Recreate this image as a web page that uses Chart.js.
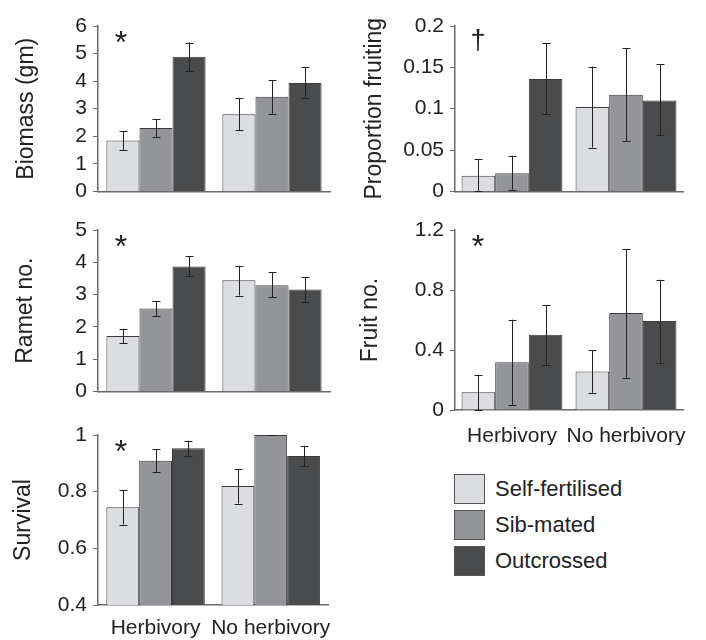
<!DOCTYPE html>
<html>
<head>
<meta charset="utf-8">
<title>Inbreeding and herbivory</title>
<script src="https://cdn.jsdelivr.net/npm/chart.js@4.4.1/dist/chart.umd.min.js"></script>
<style>
    body {
        margin: 0;
        background: #fff;
        font-family: "Liberation Sans", Arial, sans-serif;
    }
    #page {
        position: relative;
        width: 706px;
        height: 640px;
        overflow: hidden;
    }
    #page canvas {
        position: absolute;
    }
    .legend-row {
        position: absolute;
        left: 454px;
        height: 31px;
        display: flex;
        align-items: center;
        font-size: 22px;
        color: #222;
    }
    .legend-box {
        width: 29px;
        height: 28px;
        border: 1.5px solid #555;
        margin-right: 10px;
    }
</style>
</head>
<body>
<div id="page">
    <canvas id="biomass" width="345" height="210" style="left:0;top:0"></canvas>
    <canvas id="fruiting" width="351" height="210" style="left:355px;top:0"></canvas>
    <canvas id="ramets" width="345" height="200" style="left:0;top:210px"></canvas>
    <canvas id="fruits" width="351" height="235" style="left:355px;top:210px"></canvas>
    <canvas id="survival" width="345" height="225" style="left:0;top:415px"></canvas>
    <div id="legend"></div>
</div>
<script>
(function() {
    'use strict';

    // treatments on the x axis, cross types as the bars in each group
    const groups = ['Herbivory', 'No herbivory'];
    const crosses = ['Self-fertilised', 'Sib-mated', 'Outcrossed'];
    const crossColours = ['#dcdde0', '#939598', '#4a4b4d'];

    // every list below is [Herbivory, No herbivory], one list per cross type
    const biomassMean = [[1.85, 2.80], [2.30, 3.43], [4.88, 3.93]];
    const biomassLow  = [[1.51, 2.22], [1.97, 2.82], [4.36, 3.38]];
    const biomassHigh = [[2.18, 3.38], [2.63, 4.03], [5.40, 4.50]];

    const fruitingMean = [[0.019, 0.102], [0.022, 0.117], [0.136, 0.110]];
    const fruitingLow  = [[0.000, 0.053], [0.002, 0.061], [0.093, 0.068]];
    const fruitingHigh = [[0.039, 0.151], [0.043, 0.173], [0.179, 0.154]];

    const rametMean = [[1.72, 3.44], [2.57, 3.29], [3.87, 3.16]];
    const rametLow  = [[1.50, 2.97], [2.34, 2.91], [3.58, 2.78]];
    const rametHigh = [[1.94, 3.89], [2.80, 3.69], [4.18, 3.53]];

    const fruitMean = [[0.118, 0.256], [0.318, 0.647], [0.501, 0.593]];
    const fruitLow  = [[0.000, 0.115], [0.035, 0.216], [0.301, 0.315]];
    const fruitHigh = [[0.235, 0.398], [0.602, 1.073], [0.700, 0.868]];

    const survivalMean = [[0.745, 0.820], [0.909, 1.000], [0.953, 0.926]];
    const survivalLow  = [[0.684, 0.758], [0.868, 1.000], [0.926, 0.889]];
    const survivalHigh = [[0.806, 0.881], [0.949, 1.000], [0.980, 0.962]];

    // y axis ranges: [min, max, step]
    const biomassTicks = [0, 6, 1];
    const fruitingTicks = [0, 0.2, 0.05];
    const rametTicks = [0, 5, 1];
    const fruitTicks = [0, 1.2, 0.4];
    const survivalTicks = [0.4, 1, 0.2];

    const ink = '#222';
    const axisGrey = '#6a6a6a';
    const fontFamily = '"Liberation Sans", Arial, sans-serif';

    /**
     * Draws the SE whiskers stored on each dataset
     */
    const errorBars = {
        id: 'errorBars',
        afterDatasetsDraw: function(chart) {
            const ctx = chart.ctx;
            const yScale = chart.scales.y;
            ctx.save();
            ctx.strokeStyle = ink;
            ctx.lineWidth = 1;
            chart.data.datasets.forEach(function(ds, i) {
                chart.getDatasetMeta(i).data.forEach(function(bar, j) {
                    const x = Math.round(bar.x) + 0.5;
                    const yLo = yScale.getPixelForValue(ds.errLow[j]);
                    const yHi = yScale.getPixelForValue(ds.errHigh[j]);
                    ctx.beginPath();
                    ctx.moveTo(x, yLo);
                    ctx.lineTo(x, yHi);
                    ctx.moveTo(x - 4, Math.round(yHi) + 0.5);
                    ctx.lineTo(x + 4, Math.round(yHi) + 0.5);
                    ctx.moveTo(x - 4, Math.round(yLo) + 0.5);
                    ctx.lineTo(x + 4, Math.round(yLo) + 0.5);
                    ctx.stroke();
                });
            });
            ctx.restore();
        }
    };

    /**
     * Significance mark in the top left corner of a panel
     */
    const markText = {
        id: 'markText',
        afterDraw: function(chart, args, opts) {
            if (!opts.text) {
                return;
            }
            const ctx = chart.ctx;
            ctx.save();
            ctx.fillStyle = ink;
            ctx.font = opts.size + 'px ' + fontFamily;
            ctx.textAlign = 'center';
            ctx.textBaseline = 'top';
            ctx.fillText(opts.text, chart.chartArea.left + 23, chart.chartArea.top + opts.dy);
            ctx.restore();
        }
    };

    // plain numbers on the value axis: 0.1 not 0.10, 1 not 1.0
    function plainNumber(value) {
        return String(Math.round(value * 1000) / 1000);
    }

    function buildDatasets(means, lows, highs) {
        return crosses.map(function(name, i) {
            return {
                label: name,
                data: means[i],
                errLow: lows[i],
                errHigh: highs[i],
                backgroundColor: crossColours[i],
                borderColor: '#3a3a3a',
                borderWidth: 1,
                borderSkipped: 'bottom'
            };
        });
    }

    function makePanel(id, p) {
        const showGroups = !!p.showGroups;
        return new Chart(document.getElementById(id), {
            type: 'bar',
            data: {
                labels: groups,
                datasets: buildDatasets(p.mean, p.low, p.high)
            },
            options: {
                responsive: false,
                animation: false,
                devicePixelRatio: 1,
                categoryPercentage: p.catPct,
                barPercentage: 1,
                layout: {
                    padding: { left: 0, top: p.padTop, right: p.padRight, bottom: p.padBottom }
                },
                plugins: {
                    legend: { display: false },
                    tooltip: { enabled: false },
                    markText: p.mark
                },
                scales: {
                    x: {
                        grid: { display: false, drawTicks: false },
                        border: { display: true, color: axisGrey, width: 1.5 },
                        ticks: {
                            display: showGroups,
                            autoSkip: false,
                            color: ink,
                            padding: p.groupPad || 0,
                            maxRotation: 0,
                            font: { family: fontFamily, size: 21 }
                        },
                        afterFit: function(scale) {
                            scale.height = showGroups ? 35 : 0;
                        }
                    },
                    y: {
                        min: p.ticks[0],
                        max: p.ticks[1],
                        grid: {
                            drawOnChartArea: false,
                            drawTicks: true,
                            tickLength: 5,
                            color: axisGrey
                        },
                        border: { display: true, color: axisGrey, width: 1.5 },
                        ticks: {
                            stepSize: p.ticks[2],
                            autoSkip: false,
                            color: ink,
                            padding: 6,
                            font: { family: fontFamily, size: 21 },
                            callback: plainNumber
                        },
                        title: {
                            display: true,
                            text: p.title,
                            color: ink,
                            padding: { top: p.titlePad, bottom: 0 },
                            font: { family: fontFamily, size: 23 }
                        },
                        afterFit: function(scale) {
                            scale.width = p.axisWidth;
                        }
                    }
                }
            },
            plugins: [errorBars, markText]
        });
    }

    makePanel('biomass', {
        mean: biomassMean, low: biomassLow, high: biomassHigh, ticks: biomassTicks,
        title: 'Biomass (gm)', titlePad: 13, axisWidth: 98, catPct: 0.855,
        padTop: 26, padRight: 15, padBottom: 15,
        mark: { text: '*', size: 32, dy: 2 }
    });

    makePanel('fruiting', {
        mean: fruitingMean, low: fruitingLow, high: fruitingHigh, ticks: fruitingTicks,
        title: 'Proportion fruiting', titlePad: 6, axisWidth: 100, catPct: 0.885,
        padTop: 26, padRight: 23, padBottom: 14,
        mark: { text: '\u2020', size: 27, dy: 2 }
    });

    makePanel('ramets', {
        mean: rametMean, low: rametLow, high: rametHigh, ticks: rametTicks,
        title: 'Ramet no.', titlePad: 12, axisWidth: 98, catPct: 0.855,
        padTop: 20, padRight: 15, padBottom: 10,
        mark: { text: '*', size: 32, dy: 2 }
    });

    makePanel('fruits', {
        mean: fruitMean, low: fruitLow, high: fruitHigh, ticks: fruitTicks,
        title: 'Fruit no.', titlePad: 2, axisWidth: 100, catPct: 0.885,
        padTop: 20, padRight: 23, padBottom: 0,
        showGroups: true, groupPad: 14,
        mark: { text: '*', size: 32, dy: 2 }
    });

    makePanel('survival', {
        mean: survivalMean, low: survivalLow, high: survivalHigh, ticks: survivalTicks,
        title: 'Survival', titlePad: 10, axisWidth: 98, catPct: 0.855,
        padTop: 20, padRight: 15, padBottom: 0,
        showGroups: true, groupPad: 11,
        mark: { text: '*', size: 32, dy: 2 }
    });

    // legend, built from the same cross names and colours
    const legend = document.getElementById('legend');
    crosses.forEach(function(name, i) {
        const row = document.createElement('div');
        row.className = 'legend-row';
        row.style.top = (473 + i * 36) + 'px';
        const box = document.createElement('span');
        box.className = 'legend-box';
        box.style.background = crossColours[i];
        row.appendChild(box);
        row.appendChild(document.createTextNode(name));
        legend.appendChild(row);
    });
})();
</script>
</body>
</html>
